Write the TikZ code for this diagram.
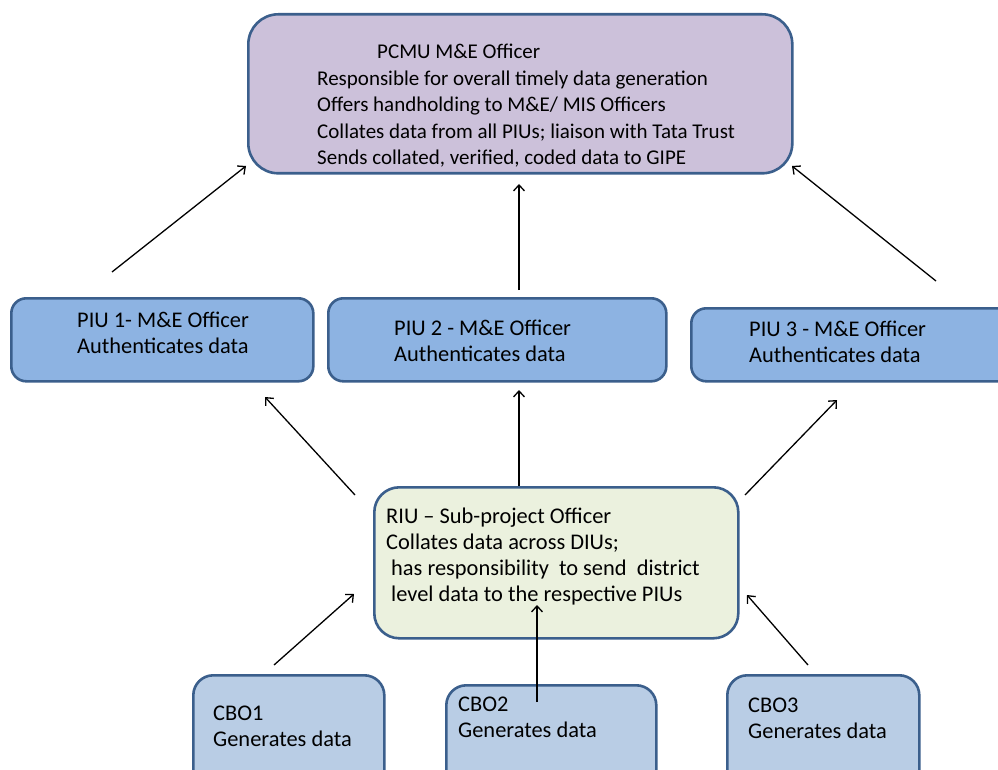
\documentclass[tikz,border=0pt]{standalone}
\usepackage{fontspec}
\setmainfont{Carlito}
\usetikzlibrary{arrows.meta}
\definecolor{edgeblue}{HTML}{3B5F8C}
\definecolor{pcmufill}{HTML}{CCC1DA}
\definecolor{piufill}{HTML}{8DB3E2}
\definecolor{riufill}{HTML}{EBF1DE}
\definecolor{cbofill}{HTML}{B9CDE5}
\tikzset{
  box/.style={draw=edgeblue, line width=2.6pt, rectangle, anchor=north west, inner sep=0pt},
  txt/.style={anchor=base west, inner sep=0pt, font=\fontsize{22.4}{26.3}\selectfont},
  headtxt/.style={txt, font=\fontsize{21}{26.5}\selectfont},
  link/.style={line width=1.3pt, -{Straight Barb[length=6pt,width=11pt,line width=1.3pt]}},
}
\newcommand{\lines}[1]{\begin{tabular}[t]{@{}l@{}}#1\end{tabular}}
\begin{document}
\begin{tikzpicture}[x=1pt,y=-1pt]
\useasboundingbox (0,0) rectangle (998,770);
\clip (0,0) rectangle (998,770);
\fill[white] (0,0) rectangle (998,770);

% boxes
\node[box, fill=pcmufill, rounded corners=30pt, minimum width=544pt, minimum height=159pt] (pcmu) at (247,13) {};
\node[box, fill=piufill, rounded corners=15pt, minimum width=302pt, minimum height=83pt] (piu1) at (10,297) {};
\node[box, fill=piufill, rounded corners=15pt, minimum width=338pt, minimum height=83pt] (piu2) at (327,297) {};
\node[box, fill=piufill, rounded corners=15pt, minimum width=330pt, minimum height=73pt] (piu3) at (690,307) {};
\node[box, fill=riufill, rounded corners=25pt, minimum width=364pt, minimum height=151pt] (riu) at (373,486) {};
\node[box, fill=cbofill, rounded corners=20pt, minimum width=191pt, minimum height=130pt] (cbo1) at (192,674) {};
\node[box, fill=cbofill, rounded corners=20pt, minimum width=210pt, minimum height=130pt] (cbo2) at (445,684) {};
\node[box, fill=cbofill, rounded corners=20pt, minimum width=192pt, minimum height=130pt] (cbo3) at (726,674) {};

% texts
\node[headtxt] (pcmutxt) at (317,59) {\lines{\hspace*{60pt}PCMU M\&E Officer\\
Responsible for overall timely data generation\\
Offers handholding to M\&E/ MIS Officers\\
Collates data from all PIUs; liaison with Tata Trust\\
Sends collated, verified, coded data to GIPE}};
\node[txt] (piu1txt) at (77,327) {\lines{PIU 1- M\&E Officer\\Authenticates data}};
\node[txt] (piu2txt) at (394,335) {\lines{PIU 2 - M\&E Officer\\Authenticates data}};
\node[txt] (piu3txt) at (749,336) {\lines{PIU 3 - M\&E Officer\\Authenticates data}};
\node[txt] (riutxt) at (386,523) {\lines{RIU -- Sub-project Officer\\
Collates data across DIUs;\\
\hspace*{5pt}has responsibility\ \ to send\ \ district\\
\hspace*{5pt}level data to the respective PIUs}};
\node[txt] (cbo1txt) at (213,720) {\lines{CBO1\\Generates data}};
\node[txt] (cbo2txt) at (458,711) {\lines{CBO2\\Generates data}};
\node[txt] (cbo3txt) at (748,712) {\lines{CBO3\\Generates data}};

% connector end points
\coordinate (a1s) at (112,272);  \coordinate (a1e) at (246,166);
\coordinate (a2s) at (519,290);  \coordinate (a2e) at (519,184);
\coordinate (a3s) at (936,281);  \coordinate (a3e) at (792,166);
\coordinate (b1s) at (355,495);  \coordinate (b1e) at (265,397);
\coordinate (b2s) at (519,486);  \coordinate (b2e) at (519,390);
\coordinate (b3s) at (745,495);  \coordinate (b3e) at (837,400);
\coordinate (c1s) at (274,665);  \coordinate (c1e) at (354,594);
\coordinate (c2s) at (537,702);  \coordinate (c2e) at (537,605);
\coordinate (c3s) at (808,665);  \coordinate (c3e) at (747,595);

\draw[link] (a1s) -- (a1e);
\draw[link] (a2s) -- (a2e);
\draw[link] (a3s) -- (a3e);
\draw[link] (b1s) -- (b1e);
\draw[link] (b2s) -- (b2e);
\draw[link] (b3s) -- (b3e);
\draw[link] (c1s) -- (c1e);
\draw[link] (c2s) -- (c2e);
\draw[link] (c3s) -- (c3e);
\end{tikzpicture}
\end{document}
